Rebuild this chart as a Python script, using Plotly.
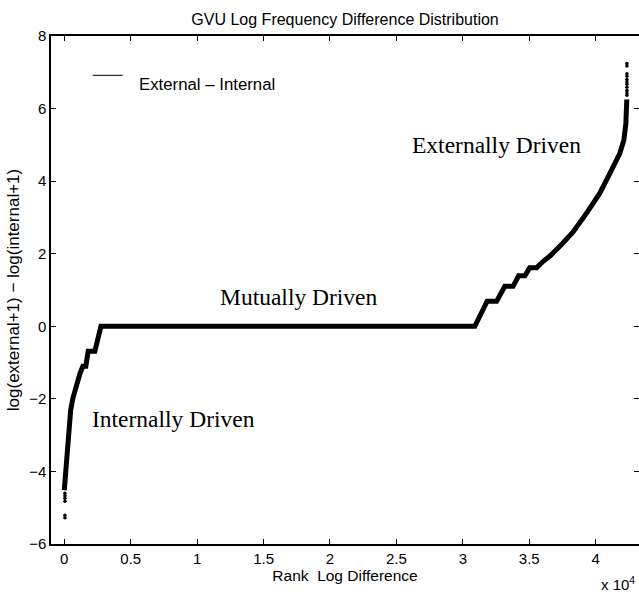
import plotly.graph_objects as go

# ---------------- data ----------------
# main (sorted) curve: rank vs log(external+1) - log(internal+1)
curve_x = [0, 60, 130, 330, 480, 650, 930, 1180, 1400, 1620, 1800, 2300, 2760,
           30900, 31830, 32540, 33160, 33780, 34200, 34670, 35030, 35550,
           36050, 36600, 37500, 38300, 39300, 40300, 41060, 41810, 42120,
           42270, 42320, 42340]
curve_y = [-4.52, -4.2, -3.88, -2.96, -2.31, -1.98, -1.58, -1.30, -1.10, -1.10,
           -0.69, -0.69, 0.0,
           0.0, 0.69, 0.69, 1.10, 1.10, 1.39, 1.39, 1.61, 1.61,
           1.79, 1.95, 2.28, 2.60, 3.11, 3.66, 4.21, 4.76, 5.13,
           5.59, 6.04, 6.25]

# sparse extreme points at both ends
low_tail_x = [50, 50, 50, 50, 50, 50]
low_tail_y = [-5.28, -5.21, -4.82, -4.74, -4.67, -4.60]
high_tail_x = [42350] * 11
high_tail_y = [7.24, 7.17, 6.96, 6.89, 6.80, 6.73, 6.67, 6.59, 6.50, 6.43, 6.37]

x_tick_vals = [0, 5000, 10000, 15000, 20000, 25000, 30000, 35000, 40000]
x_tick_text = ["0", "0.5", "1", "1.5", "2", "2.5", "3", "3.5", "4"]
y_tick_vals = [-6, -4, -2, 0, 2, 4, 6, 8]

region_labels = ["Internally Driven", "Mutually Driven", "Externally Driven"]
region_x = [1934, 11590, 26010]
region_y = [-2.56, 0.82, 4.99]

SANS = "Liberation Sans, Arial, Helvetica, sans-serif"
SERIF = "Liberation Serif, Times New Roman, serif"

fig = go.Figure()
fig.add_trace(go.Scatter(x=curve_x, y=curve_y, mode="lines",
                         line=dict(color="black", width=5),
                         name="External – Internal", showlegend=False))
fig.add_trace(go.Scatter(x=low_tail_x + high_tail_x, y=low_tail_y + high_tail_y,
                         mode="markers", marker=dict(color="black", size=3.5),
                         showlegend=False, hoverinfo="skip"))
# invisible trace to carry the right-hand tick axis
fig.add_trace(go.Scatter(x=[None], y=[None], yaxis="y2", showlegend=False,
                         hoverinfo="skip"))

for txt, xx, yy in zip(region_labels, region_x, region_y):
    fig.add_annotation(x=xx, y=yy, text=txt, showarrow=False,
                       xanchor="left", yanchor="middle",
                       font=dict(family=SERIF, size=23.5, color="black"))

# legend (Matlab-style: short line with text set slightly below it)
fig.add_shape(type="line", xref="paper", yref="paper",
              x0=0.0709, x1=0.1219, y0=0.9226, y1=0.9226,
              line=dict(color="black", width=1))
fig.add_annotation(xref="paper", yref="paper", x=0.1468, y=0.905,
                   text="External – Internal", showarrow=False,
                   xanchor="left", yanchor="middle",
                   font=dict(family=SANS, size=16.8, color="black"))

# exponent label
fig.add_annotation(xref="paper", yref="paper", x=0.997, y=-0.077,
                   text="x 10<sup>4</sup>", showarrow=False,
                   xanchor="right", yanchor="middle",
                   font=dict(family=SANS, size=15, color="black"))

axis_common = dict(showgrid=False, zeroline=False, showline=True,
                   linecolor="black", linewidth=1.5, ticks="inside",
                   ticklen=5, tickcolor="black", tickwidth=1,
                   tickfont=dict(family=SANS, size=15, color="black"))

fig.update_layout(
    width=639, height=592,
    margin=dict(l=51, r=0, t=36, b=48),
    paper_bgcolor="white", plot_bgcolor="white",
    title=dict(text="GVU Log Frequency Difference Distribution",
               x=0.54, xanchor="center", y=1 - 19 / 592, yanchor="middle",
               font=dict(family=SANS, size=16, color="black")),
    xaxis=dict(range=[-1000, 43260], tickvals=x_tick_vals, ticktext=x_tick_text,
               mirror="ticks",
               title=dict(text="Rank\u00a0 Log Difference", standoff=4,
                          font=dict(family=SANS, size=15.5, color="black")),
               **axis_common),
    yaxis=dict(range=[-6, 8], tickvals=y_tick_vals, mirror=False,
               title=dict(text="log(external+1) − log(internal+1)", standoff=5,
                          font=dict(family=SANS, size=17, color="black")),
               **axis_common),
    yaxis2=dict(range=[-6, 8], tickvals=y_tick_vals, overlaying="y", side="right",
                showgrid=False, zeroline=False, showline=False,
                showticklabels=False, ticks="inside", ticklen=5,
                tickcolor="black", tickwidth=1),
    showlegend=False,
)

fig.write_html("out.html")
